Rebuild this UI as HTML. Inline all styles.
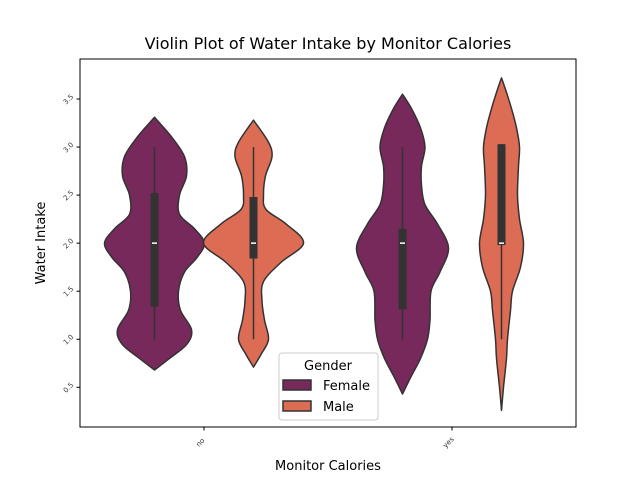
<!DOCTYPE html>
<html><head><meta charset="utf-8"><style>
body{margin:0;background:#fff;font-family:"Liberation Sans","DejaVu Sans",sans-serif;}
svg text{font-family:"DejaVu Sans","Liberation Sans",sans-serif;}
</style></head><body>
<svg id="chart" width="640" height="480" viewBox="0 0 640 480" xmlns="http://www.w3.org/2000/svg">
<rect width="640" height="480" fill="#fff"/>
<text x="328" y="49" font-size="16" text-anchor="middle" fill="#000">Violin Plot of Water Intake by Monitor Calories</text>
<g id="plot"></g>
<rect x="80" y="59" width="496" height="368" fill="none" stroke="#000" stroke-width="1"/>
<text transform="translate(45,243) rotate(-90)" font-size="13" text-anchor="middle">Water Intake</text>
<text x="328" y="470" font-size="13" text-anchor="middle">Monitor Calories</text>
<g>
<rect x="279" y="353" width="99" height="67" rx="3" fill="#fff" fill-opacity="0.8" stroke="#ccc"/>
<text x="328" y="370" font-size="13" text-anchor="middle">Gender</text>
<rect x="283" y="380" width="28" height="10" fill="#76295a" stroke="#333" stroke-width="1.5"/>
<text x="323" y="390" font-size="13">Female</text>
<rect x="283" y="401" width="28" height="10" fill="#dd6c54" stroke="#333" stroke-width="1.5"/>
<text x="323" y="411" font-size="13">Male</text>
</g>
</svg>
<script>
const categories = ["no","yes"];
const genders = ["Female","Male"];
const yTicks = [0.5,1.0,1.5,2.0,2.5,3.0,3.5];
const v1Vals = [0.68,0.8,0.95,1.1,1.3,1.5,1.7,1.85,2.0,2.15,2.3,2.5,2.7,2.9,3.1,3.31];
const v1Dens = [0,0.3,0.65,0.74,0.52,0.48,0.6,0.85,1.0,0.8,0.5,0.5,0.64,0.6,0.35,0];
const v2Vals = [0.71,0.85,1.0,1.2,1.4,1.6,1.8,2.0,2.2,2.35,2.5,2.7,2.9,3.05,3.28];
const v2Dens = [0,0.16,0.3,0.22,0.17,0.2,0.55,1.0,0.65,0.25,0.2,0.24,0.37,0.3,0];
const v3Vals = [0.43,0.6,0.8,1.0,1.2,1.5,1.7,1.95,2.2,2.4,2.6,2.8,3.0,3.2,3.4,3.55];
const v3Dens = [0,0.16,0.36,0.5,0.55,0.57,0.75,0.92,0.7,0.45,0.38,0.38,0.45,0.36,0.18,0];
const v4Vals = [0.26,0.5,0.8,1.0,1.3,1.5,1.75,2.0,2.25,2.5,2.8,3.0,3.2,3.4,3.6,3.72];
const v4Dens = [0,0.04,0.1,0.12,0.18,0.22,0.38,0.44,0.36,0.32,0.34,0.36,0.3,0.2,0.08,0];
// box stats: [whiskerLow, q1, median, q3, whiskerHigh]
const boxNoF = [1.0,1.34,2.0,2.52,3.0];
const boxNoM = [1.0,1.84,2.0,2.48,3.0];
const boxYesF = [1.0,1.31,2.0,2.15,3.0];
const boxYesM = [1.0,1.98,2.0,3.03,3.03];

const NS="http://www.w3.org/2000/svg";
const plot=document.getElementById('plot');
const svg=document.getElementById('chart');
function y(v){return 99+(3.5-v)*96.1;}
function xCat(i){return 204+i*248;}
function xGroup(ci,gi){return xCat(ci)+(gi===0?-49.5:49.5);}
const colors=["#76295a","#dd6c54"];
function mk(tag,attrs){const e=document.createElementNS(NS,tag);for(const k in attrs)e.setAttribute(k,attrs[k]);return e;}

function smooth(pts){
  let d="M"+pts[0][0]+","+pts[0][1];
  for(let i=0;i<pts.length-1;i++){
    const p0=pts[Math.max(i-1,0)],p1=pts[i],p2=pts[i+1],p3=pts[Math.min(i+2,pts.length-1)];
    const c1=[p1[0]+(p2[0]-p0[0])/6,p1[1]+(p2[1]-p0[1])/6];
    const c2=[p2[0]-(p3[0]-p1[0])/6,p2[1]-(p3[1]-p1[1])/6];
    d+=" C"+c1[0].toFixed(2)+","+c1[1].toFixed(2)+" "+c2[0].toFixed(2)+","+c2[1].toFixed(2)+" "+p2[0].toFixed(2)+","+p2[1].toFixed(2);
  }
  return d;
}
const violins=[[0,0,v1Vals,v1Dens,boxNoF],[0,1,v2Vals,v2Dens,boxNoM],[1,0,v3Vals,v3Dens,boxYesF],[1,1,v4Vals,v4Dens,boxYesM]];
violins.forEach(([ci,gi,vals,dens,box])=>{
  const cx=xGroup(ci,gi), W=50;
  const right=vals.map((v,i)=>[cx+dens[i]*W,y(v)]);
  const left=vals.map((v,i)=>[cx-dens[i]*W,y(v)]).reverse();
  const d=smooth(right)+" L"+left[0][0]+","+left[0][1]+smooth(left).replace(/^M[^C]*/," ")+" Z";
  const p=mk('path',{d:d,fill:colors[gi],stroke:'#333','stroke-width':1.5,'stroke-linejoin':'round'});
  
  
  plot.appendChild(p);
  const wh=mk('line',{x1:cx,x2:cx,y1:y(box[0]),y2:y(box[4]),stroke:'#333','stroke-width':1.5});
  
  
  plot.appendChild(wh);
  const b=mk('rect',{x:cx-4,y:y(box[3]),width:8,height:y(box[1])-y(box[3]),fill:'#333'});
  
  
  plot.appendChild(b);
  const m=mk('line',{x1:cx-2.5,x2:cx+2.5,y1:y(box[2]),y2:y(box[2]),stroke:'#fff','stroke-width':1.5});
  
  
  plot.appendChild(m);
});
yTicks.forEach(t=>{
  const yy=y(t);
  const l=mk('line',{x1:76.5,x2:80,y1:yy,y2:yy,stroke:'#000','stroke-width':1});
  
  
  svg.appendChild(l);
  const tx=mk('text',{transform:'translate(70,'+(yy+2)+') rotate(-45)','font-size':7,'text-anchor':'middle',fill:'#333'});
  
  
  tx.textContent=t.toFixed(1);
  svg.appendChild(tx);
});
categories.forEach((c,i)=>{
  const xx=xCat(i);
  const l=mk('line',{x1:xx,x2:xx,y1:427,y2:430.5,stroke:'#000','stroke-width':1});
  
  
  svg.appendChild(l);
  const tx=mk('text',{transform:'translate('+(xx-2)+',444) rotate(-45)','font-size':7,'text-anchor':'middle',fill:'#333'});
  
  
  tx.textContent=c;
  svg.appendChild(tx);
});
</script>
</body></html>
